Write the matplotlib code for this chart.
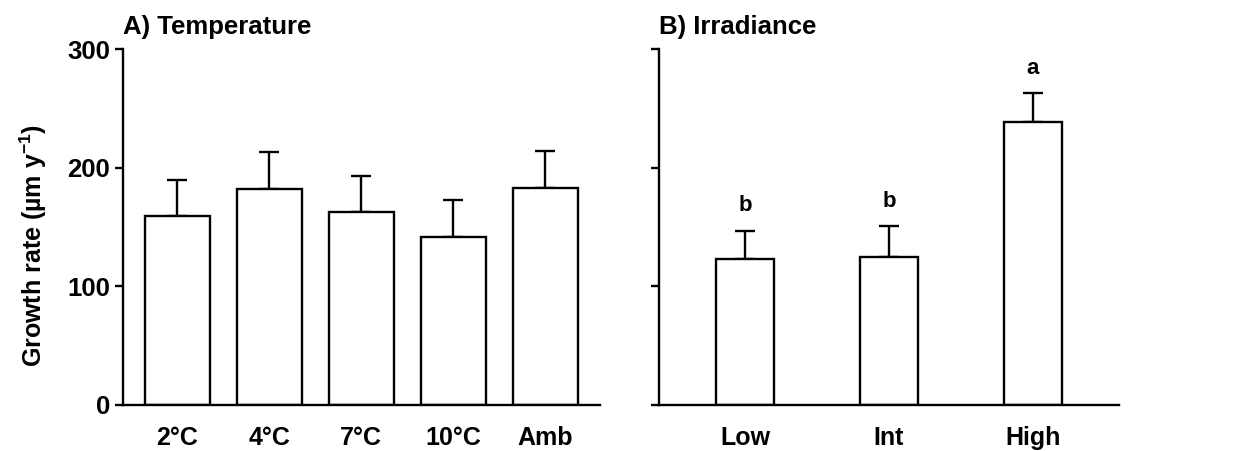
import matplotlib.pyplot as plt
import numpy as np

plt.rcParams['font.family'] = ['Liberation Sans', 'DejaVu Sans']
plt.rcParams['font.weight'] = 'bold'
plt.rcParams['mathtext.fontset'] = 'custom'
plt.rcParams['mathtext.rm'] = 'Liberation Sans:bold'
plt.rcParams['mathtext.bf'] = 'Liberation Sans:bold'

# A) Temperature
temp_labels = ["2°C", "4°C", "7°C", "10°C", "Amb"]
temp_mean = [159, 182, 163, 142, 183]
temp_err = [31, 31, 30, 31, 31]

# B) Irradiance
irr_labels = ["Low", "Int", "High"]
irr_mean = [123, 125, 239]
irr_err = [24, 26, 24]
irr_letters = ["b", "b", "a"]

fig = plt.figure(figsize=(12.38, 4.51), dpi=100)
ax1 = fig.add_axes([0.0994, 0.102, 0.385, 0.789])
ax2 = fig.add_axes([0.532, 0.102, 0.372, 0.789])


def style(ax):
    for s in ["top", "right"]:
        ax.spines[s].set_visible(False)
    for s in ["left", "bottom"]:
        ax.spines[s].set_linewidth(1.7)
    ax.tick_params(axis="y", direction="out", length=6, width=1.7, labelsize=18.5)
    ax.tick_params(axis="x", length=0, labelsize=18, pad=15)
    ax.set_ylim(0, 300)
    ax.set_yticks([0, 100, 200, 300])


x1 = np.arange(len(temp_labels))
ax1.bar(x1, temp_mean, width=0.71, color="white", edgecolor="black", linewidth=1.7, zorder=2)
ax1.errorbar(x1, temp_mean, yerr=[np.zeros(len(x1)), temp_err], fmt="none",
             ecolor="black", elinewidth=1.7, capsize=7, capthick=1.7, zorder=1)
ax1.set_xlim(-0.59, 4.59)
ax1.set_xticks(x1)
ax1.set_xticklabels(temp_labels, fontweight="bold")
style(ax1)
for t in ax1.get_yticklabels():
    t.set_fontweight("bold")
ax1.set_ylabel("Growth rate (µm y$^{-1}$)", fontsize=18, fontweight="bold")
ax1.yaxis.set_label_coords(-0.155, 0.447)
ax1.set_title("A) Temperature", loc="left", fontsize=18.5, fontweight="bold", pad=11)

x2 = np.arange(len(irr_labels))
ax2.bar(x2, irr_mean, width=0.40, color="white", edgecolor="black", linewidth=1.7, zorder=2)
ax2.errorbar(x2, irr_mean, yerr=[np.zeros(len(x2)), irr_err], fmt="none",
             ecolor="black", elinewidth=1.7, capsize=7, capthick=1.7, zorder=1)
ax2.set_xlim(-0.60, 2.60)
ax2.set_xticks(x2)
ax2.set_xticklabels(irr_labels, fontweight="bold")
style(ax2)
ax2.set_yticklabels([])
ax2.set_title("B) Irradiance", loc="left", fontsize=18.5, fontweight="bold", pad=11)
for xi, m, e, lab in zip(x2, irr_mean, irr_err, irr_letters):
    ax2.text(xi, m + e + 12, lab, ha="center", va="bottom", fontsize=16, fontweight="bold")

fig.savefig("out.png", dpi=100)
